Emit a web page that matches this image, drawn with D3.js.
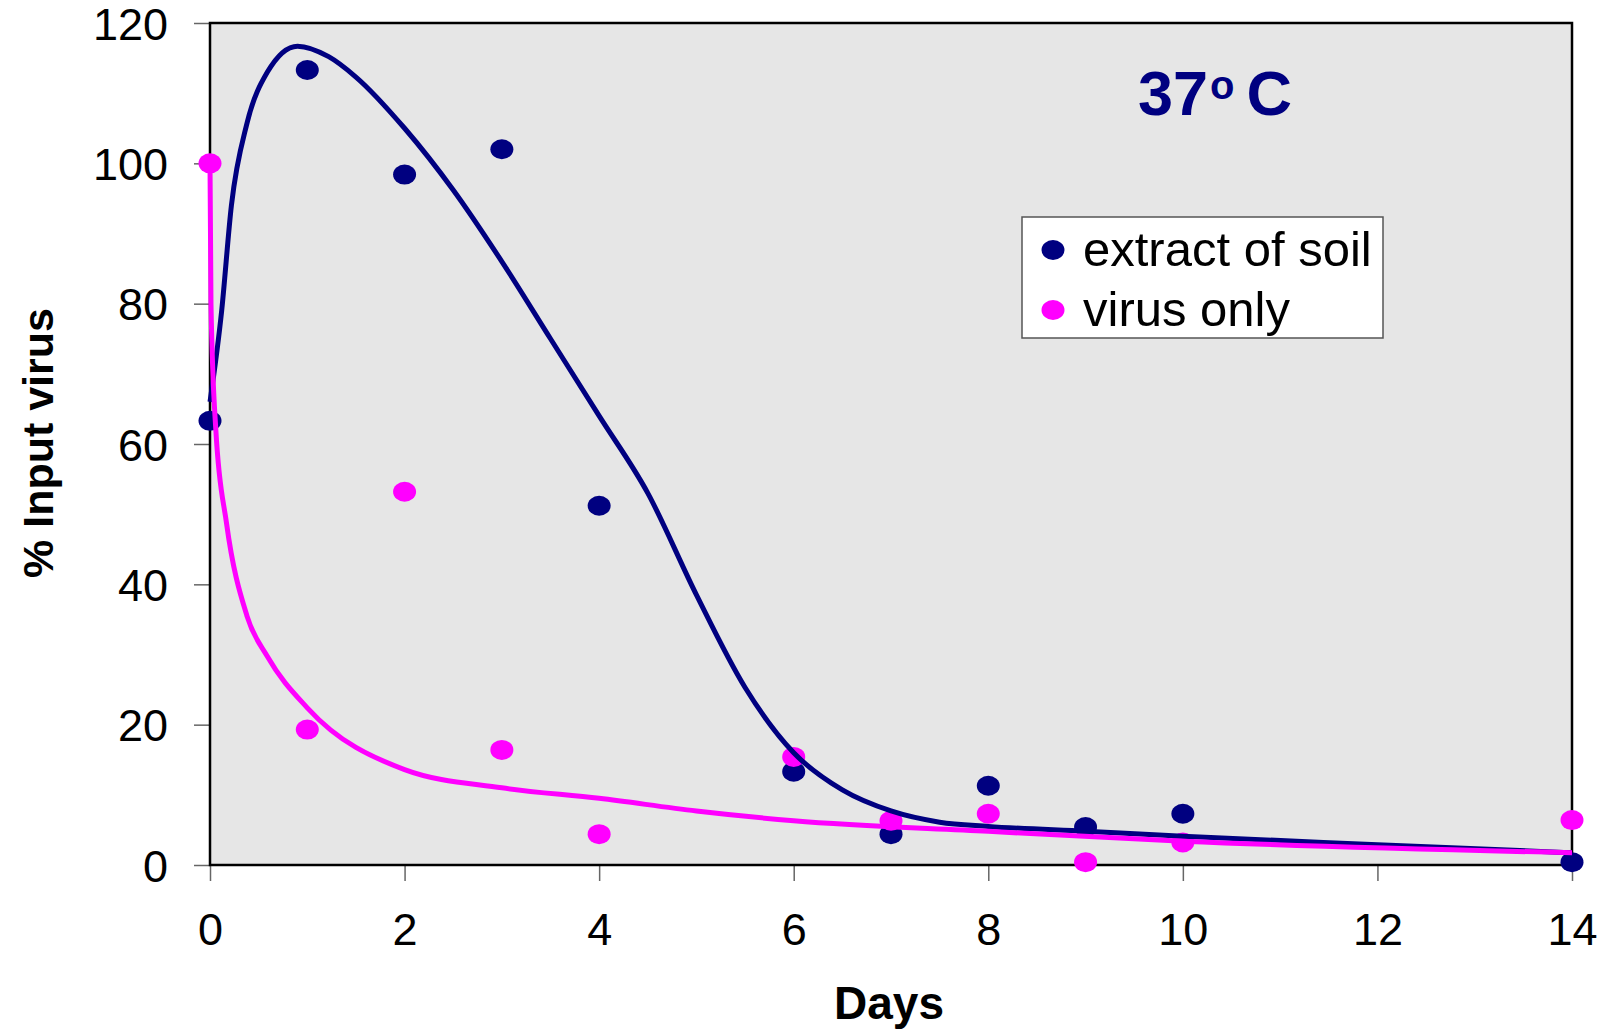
<!DOCTYPE html>
<html>
<head>
<meta charset="utf-8">
<script src="https://cdn.jsdelivr.net/npm/d3@7"></script>
<style>
  body { margin: 0; background: #fff; }
  text { font-family: "Liberation Sans", Arial, sans-serif; }
</style>
</head>
<body>
<div class="chart"></div>
<script>
var svgWidth = 1610;
var svgHeight = 1031;

var margin = { top: 23, right: 38, bottom: 166, left: 210 };
var width = svgWidth - margin.left - margin.right;
var height = svgHeight - margin.top - margin.bottom;

// measured points
var days = [0, 1, 2, 3, 4, 6, 7, 8, 9, 10, 14];
var soilValues = [63.3, 113.3, 98.4, 102, 51.2, 13.3, 4.4, 11.3, 5.4, 7.3, 0.4];
var virusValues = [100, 19.3, 53.2, 16.4, 4.4, 15.4, 6.3, 7.3, 0.4, 3.2, 6.4];

// fitted trend lines
var soilCurveDays = [0, 0.12, 0.22, 0.38, 0.59, 0.9, 1.22, 1.5, 2, 2.5, 3, 3.5, 4, 4.5, 5, 5.5, 6, 6.5, 7, 7.5, 8, 9, 10, 12, 14];
var soilCurveValues = [66, 79, 94, 105.7, 113, 116.7, 115.2, 112.3, 105, 96.2, 86, 75, 64, 53, 38.5, 25.3, 16, 10.7, 7.7, 6.1, 5.5, 4.8, 4.1, 2.9, 1.75];
var virusCurveDays = [0, 0.01, 0.06, 0.17, 0.38, 0.59, 1, 2, 3, 4, 5, 6, 8, 10, 14];
var virusCurveValues = [100, 80, 62, 48.7, 35.5, 29.7, 22.4, 13.6, 11, 9.5, 7.7, 6.3, 4.8, 3.4, 1.75];

var xTicks = [0, 2, 4, 6, 8, 10, 12, 14];
var yTicks = [0, 20, 40, 60, 80, 100, 120];

var seriesNames = ["extract of soil", "virus only"];
var seriesColors = ["#000080", "#ff00ff"];

var svg = d3.select(".chart")
  .append("svg")
  .attr("width", svgWidth)
  .attr("height", svgHeight);

var chartGroup = svg.append("g")
  .attr("transform", `translate(${margin.left}, ${margin.top})`);

var xScale = d3.scaleLinear().domain([0, 14]).range([0, width]);
var yScale = d3.scaleLinear().domain([0, 120]).range([height, 0]);

// plot area
chartGroup.append("rect")
  .attr("width", width)
  .attr("height", height)
  .attr("fill", "#e6e6e6");

// axes
var bottomAxis = d3.axisBottom(xScale).tickValues(xTicks).tickSize(16).tickSizeOuter(0).tickPadding(32);
var leftAxis = d3.axisLeft(yScale).tickValues(yTicks).tickSize(16).tickSizeOuter(0).tickPadding(26);

var xAxisG = chartGroup.append("g")
  .attr("transform", `translate(0, ${height})`)
  .call(bottomAxis);
var yAxisG = chartGroup.append("g").call(leftAxis);

[xAxisG, yAxisG].forEach(function(g) {
  g.select(".domain").remove();
  g.selectAll(".tick line").attr("stroke", "#666").attr("stroke-width", 1.5);
  g.selectAll(".tick text")
    .attr("fill", "#000")
    .style("font-family", "'Liberation Sans', Arial, sans-serif")
    .style("font-size", "45px");
});
yAxisG.selectAll(".tick text").attr("dy", "0.36em");

// border on top of the tick stubs
chartGroup.append("rect")
  .attr("width", width)
  .attr("height", height)
  .attr("fill", "none")
  .attr("stroke", "#000")
  .attr("stroke-width", 2.5);

// trend lines
var line = d3.line()
  .x(d => xScale(d[0]))
  .y(d => yScale(d[1]))
  .curve(d3.curveMonotoneX);

var virusCurve = virusCurveDays.map((d, i) => [d, virusCurveValues[i]]);
var soilCurve = soilCurveDays.map((d, i) => [d, soilCurveValues[i]]);

// points
var pointGroup = chartGroup.append("g");
pointGroup.selectAll(".soil")
  .data(days.map((d, i) => [d, soilValues[i]]))
  .enter()
  .append("ellipse")
  .attr("class", "soil")
  .attr("cx", d => xScale(d[0]))
  .attr("cy", d => yScale(d[1]))
  .attr("rx", 11.5)
  .attr("ry", 10)
  .attr("fill", seriesColors[0]);

pointGroup.selectAll(".virus")
  .data(days.map((d, i) => [d, virusValues[i]]))
  .enter()
  .append("ellipse")
  .attr("class", "virus")
  .attr("cx", d => xScale(d[0]))
  .attr("cy", d => yScale(d[1]))
  .attr("rx", 11.5)
  .attr("ry", 10)
  .attr("fill", seriesColors[1]);

chartGroup.append("path")
  .datum(soilCurve)
  .attr("d", line)
  .attr("fill", "none")
  .attr("stroke", seriesColors[0])
  .attr("stroke-width", 5);

chartGroup.append("path")
  .datum(virusCurve)
  .attr("d", line)
  .attr("fill", "none")
  .attr("stroke", seriesColors[1])
  .attr("stroke-width", 5);

// title inside plot
var title = svg.append("text")
  .attr("x", 1138)
  .attr("y", 115)
  .attr("fill", "#000080")
  .style("font-size", "63px")
  .style("font-weight", "bold");
title.append("tspan").text("37");
title.append("tspan").text("o").style("font-size", "40px").attr("dx", 2).attr("dy", -16);
title.append("tspan").text("C").attr("dx", 12).attr("dy", 16);

// legend
var legend = svg.append("g").attr("transform", "translate(1022, 217)");
legend.append("rect")
  .attr("width", 361)
  .attr("height", 121)
  .attr("fill", "#fff")
  .attr("stroke", "#555")
  .attr("stroke-width", 1.5);

seriesNames.forEach(function(name, i) {
  legend.append("ellipse")
    .attr("cx", 31)
    .attr("cy", 33 + i * 60)
    .attr("rx", 11.5)
    .attr("ry", 10)
    .attr("fill", seriesColors[i]);
  legend.append("text")
    .attr("x", 61)
    .attr("y", 49 + i * 60)
    .attr("fill", "#000")
    .style("font-size", "49px")
    .text(name);
});

// axis labels
svg.append("text")
  .attr("x", 889)
  .attr("y", 1019)
  .attr("text-anchor", "middle")
  .style("font-size", "46px")
  .style("font-weight", "bold")
  .text("Days");

svg.append("text")
  .attr("transform", "translate(53, 443) rotate(-90)")
  .attr("text-anchor", "middle")
  .style("font-size", "43px")
  .style("font-weight", "bold")
  .text("% Input virus");
</script>
</body>
</html>
